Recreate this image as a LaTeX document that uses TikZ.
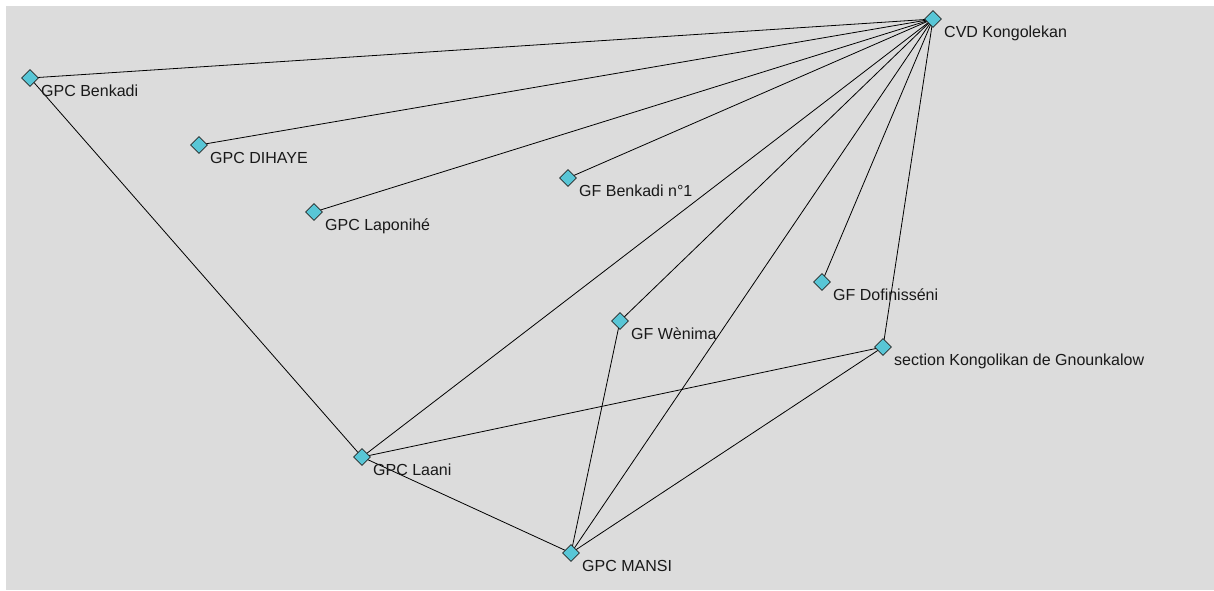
\documentclass[tikz,border=0pt]{standalone}
\usepackage{fontspec}
\newfontfamily\labfont{Liberation Sans}
\usetikzlibrary{shapes.geometric}
\pgfdeclarelayer{background}
\pgfsetlayers{background,main}
\definecolor{panel}{RGB}{220,220,220}
\definecolor{dia}{RGB}{88,198,214}
\tikzset{
  actor/.style={diamond, draw=black!85, fill=dia, line width=0.6pt, minimum width=17pt, minimum height=17pt, inner sep=0pt, shape aspect=1},
  lab/.style={anchor=base west, inner sep=0pt, font=\labfont\fontsize{16}{17}\selectfont, text=black!90},
  link/.style={draw=black, line width=0.8pt}
}
\begin{document}
\begin{tikzpicture}[x=1pt,y=-1pt]
\useasboundingbox (0,0) rectangle (1214,590);
\begin{pgfonlayer}{background}
\fill[white] (0,0) rectangle (1214,590);
\fill[panel] (6,6) rectangle (1214,590);
\end{pgfonlayer}
% actors
\node[actor] (cvd) at (933,19) {};
\node[actor] (gben) at (30,78) {};
\node[actor] (dih) at (199,145) {};
\node[actor] (lap) at (314,212) {};
\node[actor] (fben) at (568,178) {};
\node[actor] (dof) at (822,282) {};
\node[actor] (wen) at (620,321) {};
\node[actor] (sec) at (883,347) {};
\node[actor] (laa) at (362,457) {};
\node[actor] (man) at (571,553) {};
% labels
\node[lab] (cvdL) at (944,37) {CVD Kongolekan};
\node[lab] (gbenL) at (41,96) {GPC Benkadi};
\node[lab] (dihL) at (210,163) {GPC DIHAYE};
\node[lab] (lapL) at (325,230) {GPC Laponihé};
\node[lab] (fbenL) at (579,196) {GF Benkadi n°1};
\node[lab] (dofL) at (833,300) {GF Dofinisséni};
\node[lab] (wenL) at (631,339) {GF Wènima};
\node[lab] (secL) at (894,365) {section Kongolikan de Gnounkalow};
\node[lab] (laaL) at (373,475) {GPC Laani};
\node[lab] (manL) at (582,571) {GPC MANSI};
% links
\begin{pgfonlayer}{background}
\foreach \t in {gben,dih,lap,fben,laa,wen,man,dof,sec}
  \draw[link] (cvd.center) -- (\t.center);
\draw[link] (gben.center) -- (laa.center);
\draw[link] (laa.center) -- (sec.center);
\draw[link] (laa.center) -- (man.center);
\draw[link] (man.center) -- (wen.center);
\draw[link] (man.center) -- (sec.center);
\end{pgfonlayer}
\end{tikzpicture}
\end{document}
